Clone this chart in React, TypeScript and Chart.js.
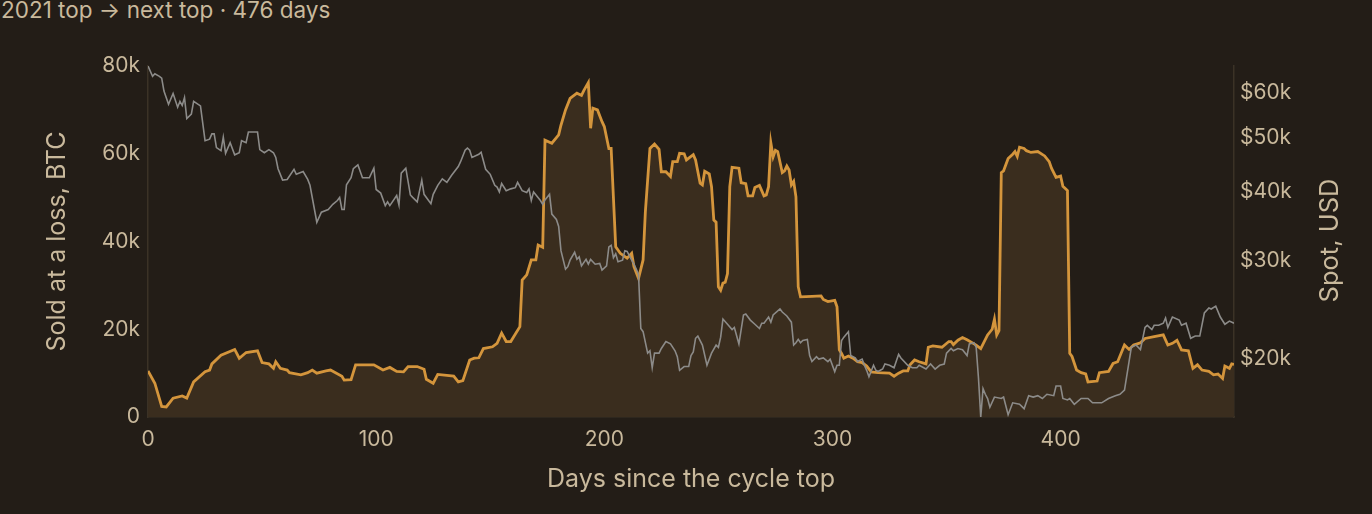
import { useEffect, useRef } from 'react';
import { Chart, registerables } from 'chart.js';

Chart.register(...registerables);

// coins sold at a loss (thousand BTC)
const lossDays = [
  0, 3, 6, 8, 11, 15, 17, 20, 25, 27, 28, 32, 38, 40, 43, 48, 50, 53, 55, 56, 58, 61, 62, 67, 70, 72, 74, 78, 80,
  85, 86, 89, 91, 99, 103, 106, 109, 112, 114, 118, 121, 122, 125, 127, 134, 136, 138, 141, 143, 145, 147, 151,
  153, 155, 157, 159, 163, 164, 166, 168, 170, 171, 173, 174, 177, 180, 181, 183, 185, 188, 190, 191, 193, 194,
  195, 197, 199, 200, 202, 203, 205, 207, 210, 212, 213, 215, 217, 218, 220, 222, 224, 225, 227, 229, 230, 232,
  233, 235, 236, 239, 240, 242, 243, 244, 246, 247, 248, 249, 250, 251, 252, 253, 254, 255, 256, 259, 260, 262,
  263, 265, 266, 268, 270, 271, 272, 273, 274, 275, 276, 278, 279, 280, 281, 282, 283, 284, 285, 286, 291, 295,
  296, 298, 301, 302, 303, 304, 305, 307, 309, 311, 313, 315, 317, 320, 325, 327, 329, 331, 333, 334, 336, 338,
  341, 342, 344, 348, 351, 352, 353, 355, 357, 359, 363, 365, 368, 370, 371, 372, 373, 374, 375, 377, 379, 380,
  381, 382, 384, 385, 387, 390, 393, 395, 396, 398, 400, 401, 403, 404, 405, 407, 409, 411, 412, 416, 417, 421,
  423, 425, 428, 430, 432, 435, 437, 441, 445, 447, 449, 451, 453, 456, 458, 460, 462, 465, 467, 469, 471, 472,
  474, 475, 476,
];
const lossBtcK = [
  10.5, 7.7, 2.4, 2.3, 4.3, 4.8, 4.3, 8.0, 10.3, 10.7, 12.1, 14.1, 15.4, 13.4, 14.7, 15.1, 12.4, 12.1, 11.1, 12.6,
  11.1, 10.7, 10.1, 9.6, 10.1, 10.7, 10.0, 10.5, 10.7, 9.3, 8.4, 8.5, 11.9, 11.9, 10.7, 11.3, 10.4, 10.3, 11.5,
  11.5, 10.9, 8.6, 7.7, 9.7, 9.3, 8.0, 8.3, 13.0, 13.4, 13.5, 15.6, 16.0, 16.8, 19.1, 17.2, 17.2, 20.6, 31.2,
  32.4, 35.8, 35.8, 39.2, 38.7, 63.1, 62.4, 64.3, 66.5, 70.0, 72.6, 73.8, 73.3, 74.4, 76.2, 65.8, 70.4, 70.0,
  67.3, 66.2, 61.2, 61.2, 38.8, 37.3, 36.2, 37.3, 34.3, 31.6, 35.8, 46.8, 61.2, 62.2, 61.0, 55.9, 55.9, 54.8,
  58.2, 58.2, 60.1, 60.0, 58.6, 59.8, 58.6, 53.3, 52.9, 56.0, 55.4, 52.5, 44.9, 44.4, 29.7, 28.9, 30.5, 30.7,
  32.7, 52.5, 56.9, 56.7, 53.4, 53.2, 50.4, 50.4, 52.3, 52.8, 50.4, 50.6, 52.5, 62.5, 59.3, 60.8, 60.5, 55.7,
  56.1, 57.2, 56.3, 52.9, 53.7, 50.2, 29.7, 27.4, 27.5, 27.6, 26.8, 26.3, 26.6, 25.1, 15.3, 14.5, 13.4, 13.9,
  13.4, 12.6, 12.4, 11.6, 10.3, 10.1, 10.0, 9.3, 10.0, 10.5, 10.5, 11.9, 13.0, 12.6, 12.1, 15.9, 16.2, 15.9,
  17.2, 17.2, 16.5, 17.5, 18.1, 17.6, 16.4, 15.6, 18.7, 20.0, 22.3, 18.7, 19.7, 55.7, 56.1, 58.9, 59.9, 60.5,
  59.4, 61.5, 61.2, 60.7, 60.3, 60.5, 59.5, 58.2, 56.7, 54.6, 54.9, 52.6, 51.6, 14.5, 13.8, 10.7, 10.1, 9.8,
  8.0, 8.2, 10.1, 10.4, 12.2, 12.6, 16.4, 15.4, 16.4, 16.9, 17.9, 18.3, 18.7, 16.4, 16.8, 17.5, 15.3, 15.1,
  11.1, 11.9, 10.7, 10.4, 9.6, 9.8, 8.8, 11.6, 11.1, 12.1, 12.0,
];

// spot price (thousand USD)
const spotDays = [
  0, 2, 3, 5, 6, 7, 9, 11, 13, 14, 15, 16, 17, 19, 20, 23, 25, 27, 28, 29, 30, 32, 33, 34, 36, 38, 40, 41, 43, 44,
  48, 49, 51, 53, 55, 56, 57, 59, 61, 64, 65, 68, 70, 71, 74, 76, 79, 81, 83, 84, 85, 86, 87, 89, 90, 92, 94, 97,
  99, 100, 102, 104, 105, 106, 109, 110, 111, 113, 115, 116, 118, 120, 121, 124, 125, 127, 129, 131, 133, 136,
  137, 139, 140, 141, 142, 145, 146, 148, 150, 152, 153, 154, 155, 157, 159, 161, 162, 164, 166, 167, 168, 169,
  172, 173, 174, 176, 177, 179, 180, 181, 183, 184, 185, 187, 188, 189, 190, 192, 193, 194, 196, 198, 199, 201,
  202, 203, 204, 205, 206, 208, 209, 210, 212, 213, 215, 216, 217, 219, 220, 221, 222, 224, 225, 227, 229, 231,
  232, 233, 235, 237, 238, 239, 240, 241, 243, 245, 247, 249, 250, 251, 252, 254, 256, 257, 259, 261, 262, 264,
  266, 268, 269, 270, 272, 273, 274, 277, 278, 280, 282, 283, 284, 285, 286, 287, 289, 290, 291, 293, 294, 296,
  298, 299, 301, 302, 303, 304, 305, 307, 308, 310, 311, 313, 314, 315, 316, 318, 319, 320, 322, 323, 325, 327,
  329, 330, 333, 335, 337, 338, 341, 343, 345, 347, 349, 350, 352, 353, 355, 357, 359, 360, 362, 363, 364, 365,
  366, 367, 368, 369, 371, 374, 375, 377, 379, 382, 384, 386, 388, 390, 392, 394, 397, 398, 400, 401, 403, 404,
  406, 409, 412, 414, 418, 421, 424, 426, 428, 430, 431, 433, 435, 437, 438, 440, 441, 443, 445, 446, 447, 449,
  452, 453, 455, 457, 459, 461, 463, 465, 466, 468, 470, 472, 474, 476,
];
const spotUsdK = [
  67.1, 64.3, 65.0, 64.3, 63.8, 60.5, 57.3, 59.9, 56.6, 58.0, 57.0, 58.9, 54.0, 55.0, 58.0, 56.9, 49.3, 49.6,
  50.7, 50.7, 47.9, 47.3, 50.0, 46.8, 48.9, 46.5, 46.9, 49.3, 48.9, 51.1, 51.1, 47.5, 46.9, 47.5, 46.9, 46.0,
  43.9, 41.9, 42.0, 43.8, 42.9, 43.4, 42.0, 41.0, 35.2, 36.7, 37.1, 37.9, 38.5, 39.0, 37.1, 37.1, 41.1, 42.3,
  43.9, 44.6, 42.3, 42.3, 44.0, 40.3, 39.7, 37.7, 38.3, 37.7, 39.3, 37.8, 43.1, 44.0, 39.4, 39.0, 38.3, 41.9,
  39.5, 38.0, 39.5, 41.0, 42.1, 41.5, 42.7, 44.3, 45.2, 47.4, 47.8, 47.4, 46.0, 46.6, 47.0, 43.8, 42.9, 41.0,
  40.7, 39.9, 41.3, 40.1, 40.4, 40.6, 41.5, 40.1, 39.8, 40.4, 38.5, 39.9, 38.5, 37.9, 38.6, 39.5, 36.4, 35.6,
  34.6, 31.3, 29.0, 29.3, 30.1, 31.1, 30.2, 30.5, 29.4, 30.2, 29.6, 30.2, 29.6, 29.7, 28.9, 29.4, 31.8, 32.0,
  30.4, 30.9, 29.9, 30.1, 31.3, 31.2, 30.1, 29.6, 28.4, 22.7, 22.4, 20.5, 20.7, 19.3, 20.5, 20.5, 20.9, 21.5,
  21.3, 20.7, 20.2, 19.1, 19.4, 19.4, 20.3, 20.6, 21.8, 22.0, 21.2, 19.5, 20.5, 21.2, 21.0, 21.9, 23.6, 23.1,
  22.6, 22.8, 21.3, 24.0, 24.1, 23.5, 23.1, 22.7, 23.2, 23.2, 23.8, 23.3, 24.0, 24.6, 24.3, 23.9, 23.3, 21.2,
  21.4, 21.7, 21.4, 21.6, 21.7, 20.3, 19.8, 20.2, 20.0, 20.1, 19.8, 20.0, 19.0, 19.5, 19.5, 21.6, 21.9, 22.4,
  20.3, 20.1, 19.8, 20.0, 19.5, 19.1, 18.6, 19.5, 19.1, 19.0, 19.2, 19.6, 19.5, 19.3, 20.4, 20.1, 19.5, 19.3,
  19.3, 19.5, 19.2, 19.6, 19.2, 19.5, 19.6, 20.5, 20.9, 20.7, 20.9, 20.8, 20.3, 21.3, 21.4, 21.0, 18.5, 15.75,
  17.7, 17.3, 17.0, 16.4, 17.1, 17.0, 17.1, 15.9, 16.7, 16.6, 16.3, 17.2, 17.1, 17.2, 17.0, 17.3, 17.2, 17.9,
  17.9, 17.0, 16.9, 17.0, 16.6, 17.0, 17.0, 16.7, 16.7, 17.0, 17.2, 17.3, 17.6, 19.8, 21.0, 21.2, 20.8, 22.8,
  23.0, 22.6, 23.0, 23.0, 23.2, 23.7, 22.8, 23.8, 23.5, 23.0, 23.2, 21.8, 22.0, 22.0, 24.2, 24.7, 24.6, 24.9,
  23.8, 23.1, 23.4, 23.2,
];

const dayTicks = [0, 100, 200, 300, 400];
const btcTicksK = [0, 20, 40, 60, 80];
const spotTicksK = [20, 30, 40, 50, 60];

const BG = '#231d17';
const TEXT = '#c9b99c';
const AXIS = '#3b3226';
const FONT = 'Inter, "Noto Sans", sans-serif';

// the right axis title reads bottom-to-top in the reference, so draw it by hand
const spotTitle = {
  id: 'spotTitle',
  afterDraw(chart: any) {
    const { ctx, chartArea } = chart;
    ctx.save();
    ctx.translate(1330, (chartArea.top + chartArea.bottom) / 2 - 1);
    ctx.rotate(-Math.PI / 2);
    ctx.fillStyle = TEXT;
    ctx.font = `25.5px ${FONT}`;
    ctx.textAlign = 'center';
    ctx.textBaseline = 'middle';
    ctx.fillText('Spot, USD', 0, 0);
    ctx.restore();
  },
};

export default function App() {
  const canvasRef = useRef<HTMLCanvasElement>(null);

  useEffect(() => {
    if (!canvasRef.current) return;
    document.body.style.margin = '0';
    Chart.defaults.font.family = FONT;
    Chart.defaults.color = TEXT;

    const chart = new Chart(canvasRef.current, {
      type: 'line',
      data: {
        datasets: [
          {
            label: 'Spot, USD',
            data: spotDays.map((d, i) => ({ x: d, y: spotUsdK[i] * 1000 })),
            yAxisID: 'y2',
            borderColor: '#8c8b89',
            borderWidth: 1.6,
            pointRadius: 0,
            fill: false,
          },
          {
            label: 'Sold at a loss, BTC',
            data: lossDays.map((d, i) => ({ x: d, y: lossBtcK[i] * 1000 })),
            yAxisID: 'y',
            borderColor: '#d4953c',
            backgroundColor: '#3a2d1e',
            borderWidth: 2.8,
            pointRadius: 0,
            fill: 'origin',
          },
        ],
      },
      options: {
        animation: false,
        responsive: true,
        maintainAspectRatio: false,
        layout: { padding: { top: 66, left: 0, right: 0, bottom: 0 } },
        plugins: {
          legend: { display: false },
          tooltip: { enabled: false },
        },
        scales: {
          x: {
            type: 'linear',
            min: 0,
            max: 476,
            afterFit: (s: any) => { s.height = 97; },
            afterBuildTicks: (s: any) => { s.ticks = dayTicks.map((v) => ({ value: v })); },
            grid: { display: false, drawTicks: false },
            border: { display: true, color: AXIS, width: 1.5 },
            ticks: { padding: 10, font: { size: 21 }, color: TEXT },
            title: {
              display: true,
              text: 'Days since the cycle top',
              font: { size: 25 },
              color: TEXT,
              padding: { top: 0, bottom: 20 },
            },
          },
          y: {
            position: 'left',
            min: 0,
            max: 80000,
            afterFit: (s: any) => { s.width = 148; },
            afterBuildTicks: (s: any) => { s.ticks = btcTicksK.map((v) => ({ value: v * 1000 })); },
            grid: { display: false, drawTicks: false },
            border: { display: true, color: AXIS, width: 1.5 },
            ticks: {
              padding: 8,
              font: { size: 21 },
              color: TEXT,
              callback: (v: any) => (v === 0 ? '0' : `${v / 1000}k`),
            },
            title: {
              display: true,
              text: 'Sold at a loss, BTC',
              font: { size: 25 },
              color: TEXT,
              padding: { top: 42, bottom: 0 },
            },
          },
          y2: {
            type: 'logarithmic',
            position: 'right',
            min: 15750,
            max: 67100,
            afterFit: (s: any) => { s.width = 138; },
            afterBuildTicks: (s: any) => { s.ticks = spotTicksK.map((v) => ({ value: v * 1000 })); },
            grid: { display: false, drawTicks: false },
            border: { display: true, color: AXIS, width: 1.5 },
            ticks: {
              padding: 6,
              font: { size: 21 },
              color: TEXT,
              callback: (v: any) => `$${v / 1000}k`,
            },
          },
        },
      },
      plugins: [spotTitle],
    });

    return () => chart.destroy();
  }, []);

  return (
    <div style={{ position: 'fixed', left: 0, top: 0, width: 1372, height: 514, background: BG, overflow: 'hidden' }}>
      <div
        style={{
          position: 'absolute',
          left: 1,
          top: -1.5,
          fontFamily: FONT,
          fontSize: 22.5,
          lineHeight: 1,
          color: TEXT,
          whiteSpace: 'nowrap',
        }}
      >
        2021 top → next top · 476 days
      </div>
      <canvas ref={canvasRef} style={{ position: 'absolute', left: 0, top: 0, width: 1372, height: 514 }} />
    </div>
  );
}
